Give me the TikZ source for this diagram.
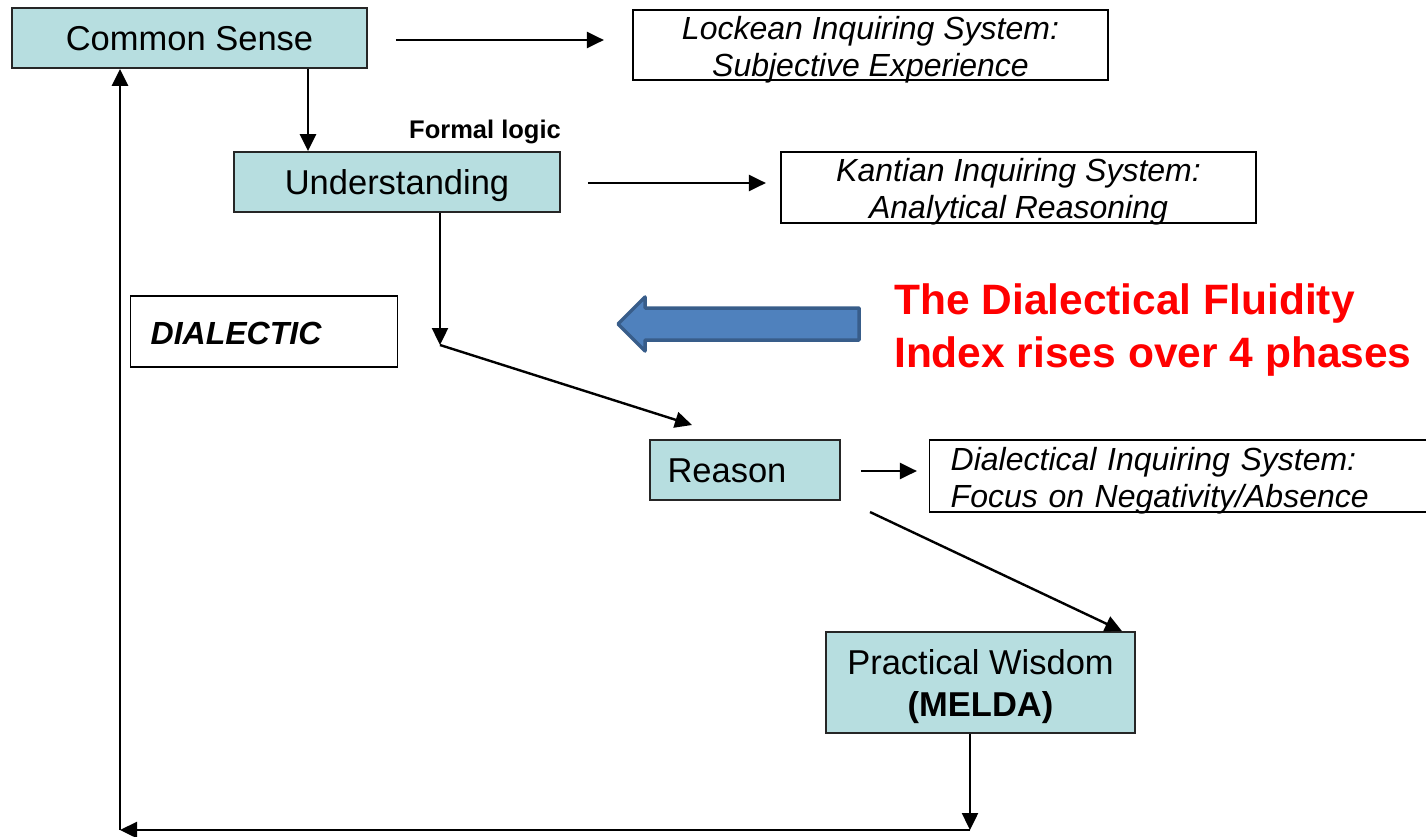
\documentclass[tikz,border=0pt]{standalone}
\usepackage{fontspec}
\setmainfont{Liberation Sans}
\usetikzlibrary{arrows.meta}
\definecolor{boxteal}{HTML}{B7DEE0}
\definecolor{arrowblue}{HTML}{4F81BD}
\definecolor{arrowedge}{HTML}{385D8A}
\newcommand{\topstrut}[1]{\rule{0pt}{#1}}
\begin{document}
\begin{tikzpicture}[x=1pt,y=-1pt,
  phase/.style={draw=black!85, line width=1.8pt, fill=boxteal, inner sep=0pt, align=center,
    font=\fontsize{34.5}{42}\selectfont},
  oneline/.style={text height=31pt, text depth=7pt},
  sysbox/.style={draw=black, line width=1.4pt, fill=white, inner xsep=0pt, inner ysep=-5pt, align=center,
    font=\fontsize{32}{37}\selectfont\itshape},
  conn/.style={line width=2.4pt, -{Triangle[length=17pt,width=16pt]}}]
\useasboundingbox (0,0) rectangle (1426,836);

% phase boxes
\node[phase, oneline, minimum width=355pt, minimum height=60pt] (cs) at (189.5,38) {Common Sense};
\node[phase, oneline, minimum width=326pt, minimum height=60pt] (und) at (397,182) {Understanding};
\node[phase, oneline, minimum width=190pt, minimum height=60pt, text width=155pt, align=left] (rea) at (745,470) {Reason};
\node[phase, minimum width=309pt, minimum height=101pt] (pw) at (980.5,682.5) {\topstrut{34pt}Practical Wisdom\\\textbf{(MELDA)}};

% inquiring systems
\node[sysbox, minimum width=475pt, minimum height=70pt] (lock) at (870.5,45) {\topstrut{32pt}Lockean Inquiring System:\\Subjective Experience};
\node[sysbox, minimum width=475pt, minimum height=71pt] (kant) at (1018.5,187.5) {\topstrut{32pt}Kantian Inquiring System:\\Analytical Reasoning};
\node[sysbox, anchor=west, minimum height=72pt, text width=476pt, inner xsep=21pt, align=left] (dial) at (929,476) {\topstrut{32pt}Dialectical Inquiring System:\\Focus on Negativity/Absence};

% dialectic box
\node[sysbox, inner ysep=0pt, anchor=west, minimum height=71pt, text width=227pt, inner xsep=20pt, align=left,
  font=\fontsize{32}{36}\selectfont\bfseries\itshape] (dlc) at (130,331.5) {\topstrut{26pt}DIALECTIC};

% labels
\node[font=\fontsize{25.5}{30}\selectfont\bfseries, inner sep=0pt] (fl) at (485,132) {Formal logic};
\node[font=\fontsize{42.5}{53}\selectfont\bfseries, text=red, align=left, anchor=north west, inner sep=0pt] (dfi) at (894,283) {The Dialectical Fluidity\\Index rises over 4 phases};

% big blue arrow
\draw[fill=arrowblue, draw=arrowedge, line width=3.5pt, line join=round]
  (618,324) -- (645,297) -- (645,308) -- (859,308) -- (859,340) -- (645,340) -- (645,351) -- cycle;

% coordinates
\coordinate (bend) at (440,345);
\coordinate (rtip) at (692,425);
\coordinate (rs) at (870,512);
\coordinate (br) at (970,830);
\coordinate (bl) at (120,830);

% connectors
\draw[conn] ([xshift=28pt,yshift=-2pt]cs.east) -- ++(208,0);
\draw[conn] ([xshift=118.5pt]cs.south) -- ([xshift=118.5pt]cs.south |- und.north);
\draw[conn] ([xshift=27pt,yshift=-1pt]und.east) -- ++(178,0);
\draw[conn] ([xshift=43pt]und.south) -- (bend);
\draw[conn] (bend) -- (rtip);
\draw[conn] ([xshift=20pt,yshift=-1pt]rea.east) -- ++(56,0);
\draw[conn] (rs) -- ([xshift=141.5pt]pw.north);
\draw[conn] (pw.south -| br) -- (br);
\draw[conn] (br) -- (bl);
\draw[conn] (bl) -- (bl |- cs.south);
\end{tikzpicture}
\end{document}
